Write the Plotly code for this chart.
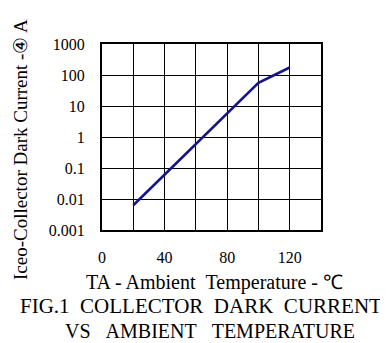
import plotly.graph_objects as go

temps = [20, 100, 120]
dark_current = [0.0063, 56, 174]
x_ticks = [0, 40, 80, 120]
y_ticks = [0.001, 0.01, 0.1, 1, 10, 100, 1000]
y_tick_labels = ["0.001", "0.01", "0.1", "1", "10", "100", "1000"]

FONT = "Liberation Serif, Times New Roman, serif"
OFF = 8  # page body margin
W, H = 388 - OFF, 343 - OFF
L, R, T, B = 102 - OFF, 321 - OFF, 44 - OFF, 230 - OFF
NB = "\u00a0"

def px(x):
    return (x - OFF - L) / (R - L)

def py(y):
    return (B - (y - OFF)) / (B - T)

fig = go.Figure()
fig.add_trace(go.Scatter(x=temps, y=dark_current, mode="lines",
                         line=dict(color="#16168a", width=2.6),
                         showlegend=False, hoverinfo="skip"))

fig.update_layout(
    width=W, height=H,
    margin=dict(l=L, r=W - R, t=T, b=H - B, pad=0),
    plot_bgcolor="white", paper_bgcolor="white",
    font=dict(family=FONT, color="black"),
)
fig.update_xaxes(range=[0, 140], tickvals=x_ticks,
                 showgrid=True, gridcolor="black", gridwidth=1,
                 showline=True, linecolor="black", linewidth=2, mirror=True,
                 ticks="", tickfont=dict(size=16, family=FONT), ticklabelstandoff=12,
                 zeroline=False,
                 minor=dict(dtick=20, showgrid=True, gridcolor="black", gridwidth=1))
fig.update_yaxes(type="log", range=[-3, 3], tickvals=y_ticks, ticktext=y_tick_labels,
                 showgrid=True, gridcolor="black", gridwidth=1,
                 showline=True, linecolor="black", linewidth=2, mirror=True,
                 ticks="", tickfont=dict(size=16, family=FONT), ticklabelstandoff=12,
                 zeroline=False)

S2 = NB * 2
S3 = NB * 3
anns = [
    dict(text="Iceo-Collector Dark Current -④ A", x=px(20), y=py(150), textangle=-90, size=19),
    dict(text=f"TA - Ambient{NB}{NB}Temperature - ℃", x=px(214), y=py(282), textangle=0, size=20),
    dict(text=f"FIG.1{S2}COLLECTOR{S2}DARK{S2}CURRENT", x=px(201), y=py(306), textangle=0, size=21),
    dict(text=f"VS{S3}AMBIENT{S3}TEMPERATURE", x=px(210), y=py(331), textangle=0, size=20),
]
for a in anns:
    fig.add_annotation(text=a["text"], x=a["x"], y=a["y"], xref="paper", yref="paper",
                       xanchor="center", yanchor="middle", showarrow=False,
                       textangle=a["textangle"], font=dict(size=a["size"], family=FONT, color="black"))

fig.write_html("out.html")
